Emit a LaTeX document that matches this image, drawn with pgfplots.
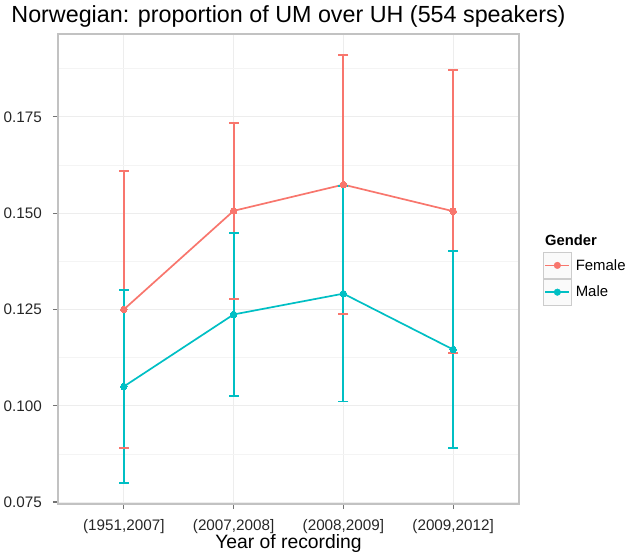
\documentclass[border=0pt]{standalone}
\usepackage{fontspec}
\setmainfont{Liberation Sans}
\usepackage{pgfplots}
\pgfplotsset{compat=1.18}
\definecolor{fem}{HTML}{F8766D}
\definecolor{mal}{HTML}{00BFC4}
\definecolor{gridc}{HTML}{EDEDED}
\definecolor{framec}{HTML}{C2C2C2}
\begin{document}
\begin{tikzpicture}
\begin{axis}[
  width=461bp, height=470bp, scale only axis,
  clip=false,
  xmin=0.4, xmax=4.6, ymin=0.0745, ymax=0.1965,
  axis line style={draw=framec, line width=1.5bp},
  xtick={1,2,3,4},
  xticklabels={{(1951,2007]},{(2007,2008]},{(2008,2009]},{(2009,2012]}},
  ytick={0.075,0.1,0.125,0.15,0.175},
  minor ytick={0.0875,0.1125,0.1375,0.1625,0.1875},
  xmajorgrids, ymajorgrids, yminorgrids,
  major grid style={draw=gridc, line width=1bp},
  minor grid style={draw=gridc!60, line width=0.6bp},
  tick align=outside, xtick pos=left, ytick pos=left,
  major tick length=5bp, minor tick length=0pt,
  tick style={draw=black!55, line width=1.2bp},
  unbounded coords=jump,
  /pgf/number format/assume math mode=true,
  yticklabel style={/pgf/number format/fixed, /pgf/number format/fixed zerofill, /pgf/number format/precision=3,
     anchor=east, inner sep=0pt, xshift=-11bp, text=black!85},
  xticklabel style={anchor=base, inner sep=0pt, yshift=-21.5bp, text=black!85},
  ticklabel style={font=\fontsize{15.3}{18}\selectfont},
  title={Norwegian: proportion of UM over UH (554 speakers)},
  title style={font=\fontsize{23.4}{27}\selectfont, at={(rel axis cs:0.5,1)}, anchor=base, inner sep=0pt, yshift=6bp},
  xlabel={Year of recording},
  xlabel style={font=\fontsize{19.4}{23}\selectfont, at={(rel axis cs:0.5,0)}, anchor=base, inner sep=0pt, yshift=-44.5bp},
  legend style={at={(1.052,0.5362)}, anchor=north west, draw=none, fill=none, inner sep=0pt, outer sep=0pt,
     row sep=0pt, font=\fontsize{15}{18}\selectfont, nodes={inner sep=0pt},
     /tikz/every odd column/.append style={column sep=4bp}},
  legend cell align=left,
]
\coordinate (ll) at (rel axis cs:0,0);
% error bars (lower, upper) drawn from data as whiskers with caps
\addplot[forget plot, draw=fem, line width=1.9bp, mark=-, mark size=5bp, mark options={draw=fem, line width=1.9bp}]
  coordinates {(1,0.0890) (1,0.1610) (1,nan) (2,0.1277) (2,0.1735) (2,nan)
               (3,0.1238) (3,0.1910) (3,nan) (4,0.1138) (4,0.1872)};
\addplot[forget plot, draw=mal, line width=1.9bp, mark=-, mark size=5bp, mark options={draw=mal, line width=1.9bp}]
  coordinates {(1,0.0799) (1,0.1301) (1,nan) (2,0.1026) (2,0.1448) (2,nan)
               (3,0.1011) (3,0.1571) (3,nan) (4,0.0890) (4,0.1402)};
% means
\addplot[forget plot, draw=fem, line width=1.7bp, mark=*, mark size=3.3bp, mark options={draw=fem, fill=fem, line width=0pt}]
  coordinates {(1,0.1250) (2,0.1506) (3,0.1574) (4,0.1505)};
\addplot[forget plot, draw=mal, line width=1.7bp, mark=*, mark size=3.3bp, mark options={draw=mal, fill=mal, line width=0pt}]
  coordinates {(1,0.1050) (2,0.1237) (3,0.1291) (4,0.1146)};
\addlegendimage{legend image code/.code={
  \draw[draw=black!20, fill=black!2, line width=0.8bp] (0bp,-13bp) rectangle (28bp,13bp);
  \draw[draw=fem, line width=1.7bp] (2bp,0bp) -- (26bp,0bp);
  \fill[fem] (14bp,0bp) circle (3.3bp);}}
\addlegendentry{Female}
\addlegendimage{legend image code/.code={
  \draw[draw=black!20, fill=black!2, line width=0.8bp] (0bp,-13bp) rectangle (28bp,13bp);
  \draw[draw=mal, line width=1.7bp] (2bp,0bp) -- (26bp,0bp);
  \fill[mal] (14bp,0bp) circle (3.3bp);}}
\addlegendentry{Male}
\node[anchor=base west, inner sep=0pt, font=\bfseries\fontsize{14.8}{17}\selectfont] at (rel axis cs:1.0564,0.551) {Gender};
\end{axis}
\pgfresetboundingbox
\path[use as bounding box] (ll) ++(-58bp,-54bp) rectangle ++(629bp,558bp);
\end{tikzpicture}
\end{document}
